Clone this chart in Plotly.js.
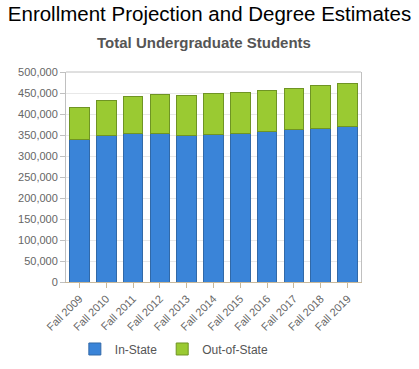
<!DOCTYPE html>
<html>
<head>
<meta charset="utf-8">
<script src="https://cdn.plot.ly/plotly-3.0.1.min.js"></script>
<style>
  html, body { margin: 0; padding: 0; background: #ffffff; }
  #chart { width: 419px; height: 369px; }
</style>
</head>
<body>
<div id="chart"></div>
<script>
// Undergraduate enrollment by fall term
const terms = ["Fall 2009", "Fall 2010", "Fall 2011", "Fall 2012", "Fall 2013", "Fall 2014",
               "Fall 2015", "Fall 2016", "Fall 2017", "Fall 2018", "Fall 2019"];
const inState = [340000, 348600, 354300, 354300, 349500, 351000, 354300, 359100, 363900, 366300, 371100];
const outOfState = [76400, 84500, 88400, 91500, 93900, 97200, 97900, 97900, 97900, 102700, 102600];
const yTickValues = [0, 50000, 100000, 150000, 200000, 250000, 300000, 350000, 400000, 450000, 500000];

const font = "Arial, 'Liberation Sans', sans-serif";

const traces = [
  {
    type: "bar",
    name: "In-State",
    x: terms,
    y: inState,
    marker: { color: "#3a84d8", line: { color: "#3169a8", width: 1 } },
    hoverinfo: "x+y+name"
  },
  {
    type: "bar",
    name: "Out-of-State",
    x: terms,
    y: outOfState,
    marker: { color: "#9aca32", line: { color: "#6f9424", width: 1 } },
    hoverinfo: "x+y+name"
  }
];

const layout = {
  width: 419,
  height: 369,
  margin: { l: 66, r: 58, t: 72, b: 87, autoexpand: false },
  paper_bgcolor: "#ffffff",
  plot_bgcolor: "#ffffff",
  font: { family: font, size: 11, color: "#666666" },
  title: {
    text: "Enrollment Projection and Degree Estimates",
    font: { family: font, size: 20.5, color: "#000000" },
    x: 0.5, xref: "container", xanchor: "center",
    y: 1, yref: "container", yanchor: "top", pad: { t: 7 }
  },
  annotations: [{
    text: "<b>Total Undergraduate Students</b>",
    xref: "paper", yref: "paper",
    x: 0.469, y: 1.14, xanchor: "center", yanchor: "middle",
    showarrow: false,
    font: { family: font, size: 15, color: "#555555" }
  }],
  barmode: "stack",
  bargap: 0.27,
  xaxis: {
    type: "category",
    automargin: false,
    tickangle: -45,
    ticks: "outside",
    ticklen: 5,
    tickcolor: "#c8b89a",
    showline: true,
    linecolor: "#c8b89a",
    linewidth: 1,
    showgrid: false,
    tickfont: { family: font, size: 11, color: "#666666" }
  },
  yaxis: {
    automargin: false,
    range: [0, 500000],
    tickvals: yTickValues,
    tickformat: ",d",
    ticks: "outside",
    ticklen: 5,
    tickcolor: "#c0c0c0",
    showline: true,
    linecolor: "#c0c0c0",
    linewidth: 1,
    mirror: true,
    gridcolor: "#e8e8e8",
    zeroline: false,
    tickfont: { family: font, size: 11, color: "#666666" }
  },
  shapes: [{
    type: "line", xref: "paper", yref: "paper",
    x0: 0, x1: 1, y0: 1, y1: 1,
    line: { color: "#c0c0c0", width: 1 }
  }],
  showlegend: true,
  legend: {
    orientation: "h",
    x: 0.03, xanchor: "left",
    y: -0.319, yanchor: "middle",
    font: { family: font, size: 12, color: "#555555" },
    traceorder: "normal",
    itemwidth: 30
  }
};

Plotly.newPlot("chart", traces, layout, { displayModeBar: false, staticPlot: true });
</script>
</body>
</html>
